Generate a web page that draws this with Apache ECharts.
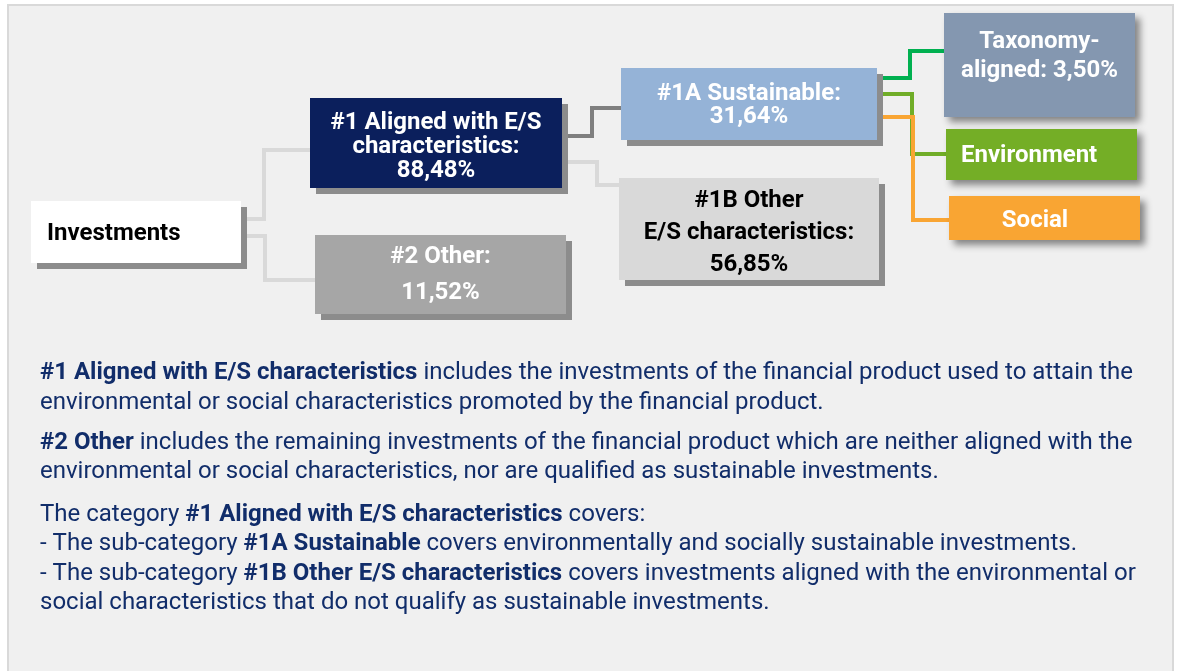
<!DOCTYPE html>
<html>
<head>
<meta charset="utf-8">
<script src="https://cdn.jsdelivr.net/npm/echarts@6/dist/echarts.min.js"></script>
<style>
html,body{margin:0;padding:0;background:#ffffff;}
#chart{width:1178px;height:671px;}
</style>
</head>
<body>
<div id="chart"></div>
<script>
// ---------------- DATA ----------------
const nodeNames = ['Investments', '#1 Aligned with E/S characteristics', '#2 Other', '#1A Sustainable',
  '#1B Other E/S characteristics', 'Taxonomy-aligned', 'Environment', 'Social'];
const nodeValues = [null, 88.48, 11.52, 31.64, 56.85, 3.50, null, null];
const nodeLabelTemplates = [
  'Investments',
  '#1 Aligned with E/S\ncharacteristics:\n{v}',
  '#2 Other:\n{v}',
  '#1A Sustainable:\n{v}',
  '#1B Other\nE/S characteristics:\n{v}',
  'Taxonomy-\naligned: {v}',
  'Environment',
  'Social'
];
const linkSources = [0, 0, 1, 1, 3, 3, 3];
const linkTargets = [1, 2, 3, 4, 5, 6, 7];

const para1 = '{b|#1 Aligned with E/S characteristics} includes the investments of the financial product used to attain the\nenvironmental or social characteristics promoted by the financial product.';
const para2 = '{b|#2 Other} includes the remaining investments of the financial product which are neither aligned with the\nenvironmental or social characteristics, nor are qualified as sustainable investments.';
const para3 = 'The category {b|#1 Aligned with E/S characteristics} covers:\n- The sub-category {b|#1A Sustainable} covers environmentally and socially sustainable investments.\n- The sub-category {b|#1B Other E/S characteristics} covers investments aligned with the environmental or\nsocial characteristics that do not qualify as sustainable investments.';

// ---------------- LAYOUT / STYLE (diagram units on hidden axes) ----------------
const boxes = [
  {x0: 31, y0: 201, x1: 241, y1: 263, fill: '#ffffff', color: '#000000', align: 'left', tx: 47, ty: 234, lh: 24, shadow: 'hard'},
  {x0: 310, y0: 98, x1: 562, y1: 188, fill: '#0b1f5c', color: '#ffffff', align: 'center', ty: 147, lh: 24, shadow: 'hard'},
  {x0: 315, y0: 235, x1: 566, y1: 314, fill: '#a6a6a6', color: '#ffffff', align: 'center', ty: 275, lh: 36, shadow: 'hard'},
  {x0: 621, y0: 68, x1: 877, y1: 140, fill: '#95b3d7', color: '#ffffff', align: 'center', ty: 105, lh: 23, shadow: 'hard'},
  {x0: 619, y0: 178, x1: 879, y1: 280, fill: '#d9d9d9', color: '#000000', align: 'center', ty: 233, lh: 32, shadow: 'hard'},
  {x0: 944, y0: 13, x1: 1135, y1: 117, fill: '#8497b0', color: '#ffffff', align: 'center', ty: 56, lh: 29, shadow: 'soft'},
  {x0: 946, y0: 129, x1: 1137, y1: 180, fill: '#74ae26', color: '#ffffff', align: 'left', tx: 961, ty: 156, lh: 24, shadow: 'soft'},
  {x0: 949, y0: 196, x1: 1140, y1: 240, fill: '#f9a533', color: '#ffffff', align: 'center', tx: 1035, ty: 221, lh: 24, shadow: 'soft'}
];
const linkPaths = [
  {pts: [[241, 219], [264, 219], [264, 150], [310, 150]], color: '#d9d9d9'},
  {pts: [[241, 236], [265, 236], [265, 280], [315, 280]], color: '#d9d9d9'},
  {pts: [[562, 136], [592, 136], [592, 108], [621, 108]], color: '#7f7f7f'},
  {pts: [[562, 162], [597, 162], [597, 185], [619, 185]], color: '#d9d9d9'},
  {pts: [[878, 78], [910, 78], [910, 51], [944, 51]], color: '#00b050'},
  {pts: [[878, 94], [912, 94], [912, 154], [946, 154]], color: '#70ad28'},
  {pts: [[878, 117], [913, 117], [913, 220], [949, 220]], color: '#f9a533'}
];
const TEXT_COLOR = '#112d6a';
const FONT = 'Roboto, "Noto Sans", sans-serif';
const BODY_SIZE = 24;
const BOX_SIZE = 24;

function fmt(v) { return v.toFixed(2).replace('.', ',') + '%'; }
function labelOf(i) {
  const v = nodeValues[i];
  return v == null ? nodeLabelTemplates[i] : nodeLabelTemplates[i].replace('{v}', fmt(v));
}

const chart = echarts.init(document.getElementById('chart'), null, {renderer: 'canvas'});

function para(text, top, lh) {
  return {type: 'text', left: 40, top: top, style: {text: text, fill: TEXT_COLOR, font: BODY_SIZE + 'px ' + FONT, lineHeight: lh,
    rich: {b: {fontWeight: 'bold', fill: TEXT_COLOR, fontSize: BODY_SIZE, fontFamily: 'Roboto', lineHeight: lh}}}};
}

const option = {
  backgroundColor: '#ffffff',
  animation: false,
  grid: {left: 0, right: 0, top: 0, bottom: 0},
  xAxis: {type: 'value', min: 0, max: 1178, show: false},
  yAxis: {type: 'value', min: 0, max: 671, inverse: true, show: false},
  graphic: [
    {type: 'rect', shape: {x: 8, y: 5, width: 1165, height: 680}, style: {fill: '#f0f0f0', stroke: '#d9d9d9', lineWidth: 2}, z: -10},
    para(para1, 358, 30),
    para(para2, 428, 29.5),
    para(para3, 500, 29.5)
  ],
  series: [
    {
      type: 'custom',
      name: 'links',
      coordinateSystem: 'cartesian2d',
      z: 1,
      data: linkSources.map((s, i) => [s, linkTargets[i]]),
      renderItem: function (params, api) {
        const p = linkPaths[params.dataIndex];
        return {
          type: 'polyline',
          shape: {points: p.pts.map(pt => api.coord(pt))},
          style: {stroke: p.color, lineWidth: 4, fill: null, lineJoin: 'miter'}
        };
      }
    },
    {
      type: 'custom',
      name: 'nodes',
      coordinateSystem: 'cartesian2d',
      z: 2,
      data: nodeNames.map((n, i) => ({name: n, value: [i, nodeValues[i] == null ? 0 : nodeValues[i]]})),
      renderItem: function (params, api) {
        const i = params.dataIndex;
        const b = boxes[i];
        const p0 = api.coord([b.x0, b.y0]);
        const p1 = api.coord([b.x1, b.y1]);
        const w = p1[0] - p0[0], h = p1[1] - p0[1];
        const children = [];
        if (b.shadow === 'hard') {
          children.push({type: 'rect', shape: {x: p0[0] + 6, y: p0[1] + 6, width: w, height: h}, style: {fill: '#8c8c8c'}});
          children.push({type: 'rect', shape: {x: p0[0], y: p0[1], width: w, height: h}, style: {fill: b.fill}});
        } else {
          children.push({type: 'rect', shape: {x: p0[0], y: p0[1], width: w, height: h},
            style: {fill: b.fill, shadowColor: 'rgba(0,0,0,0.45)', shadowBlur: 7, shadowOffsetX: 5, shadowOffsetY: 5}});
        }
        const tx = b.tx != null ? api.coord([b.tx, 0])[0] : (p0[0] + p1[0]) / 2;
        const ty = api.coord([0, b.ty])[1];
        children.push({type: 'text', x: tx, y: ty, style: {
          text: labelOf(i), fill: b.color, font: 'bold ' + BOX_SIZE + 'px ' + FONT, lineHeight: b.lh,
          align: b.align, verticalAlign: 'middle'
        }});
        return {type: 'group', children: children};
      }
    }
  ]
};
chart.setOption(option);
</script>
</body>
</html>
